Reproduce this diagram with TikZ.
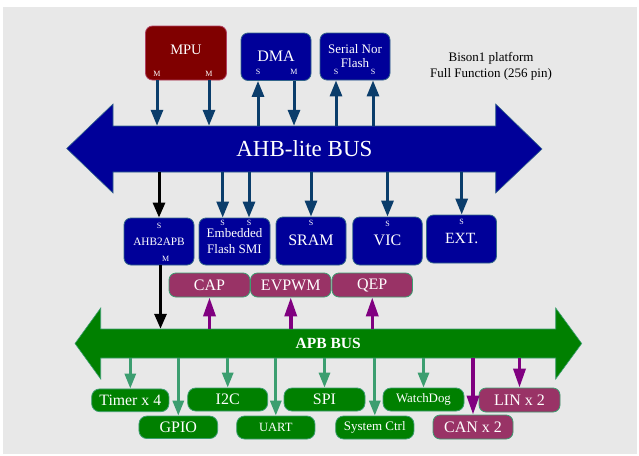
\documentclass[tikz,border=0pt]{standalone}
\usepackage{fontspec}
\setmainfont{Liberation Serif}
\usetikzlibrary{arrows.meta}

\definecolor{paper}{HTML}{E8E8E8}
\definecolor{ahbblue}{HTML}{000099}
\definecolor{bluerim}{HTML}{33668A}
\definecolor{navyline}{HTML}{0B3D6B}
\definecolor{mpured}{HTML}{800000}
\definecolor{mpurim}{HTML}{B04060}
\definecolor{apbgreen}{HTML}{008000}
\definecolor{greenrim}{HTML}{3C9E70}
\definecolor{plum}{HTML}{993366}
\definecolor{purpleline}{HTML}{800080}

\newcommand\setfs[2]{\fontsize{#1}{#2}\selectfont}

\tikzset{
  box/.style={draw, line width=0.8pt, inner sep=0pt, rounded corners=7pt},
  bluebox/.style={box, fill=ahbblue, draw=bluerim},
  redbox/.style={box, fill=mpured, draw=mpurim},
  greenbox/.style={box, fill=apbgreen, draw=greenrim, rounded corners=8pt},
  plumbox/.style={box, fill=plum, draw=greenrim, rounded corners=7pt},
  txt/.style={text=white, inner sep=0pt, align=center},
  port/.style={txt, font=\setfs{8}{9}},
  navyarr/.style={draw=navyline, line width=3pt, -{Triangle[length=16pt,width=12pt]}},
  blackarr/.style={draw=black, line width=3pt, -{Triangle[length=15pt,width=12pt]}},
  purparr/.style={draw=purpleline, line width=3.5pt, -{Triangle[length=19pt,width=12pt]}},
  greenarr/.style={draw=greenrim, line width=3pt, -{Triangle[length=15pt,width=11pt]}},
}

\begin{document}
\begin{tikzpicture}[x=1pt,y=-1pt]
\useasboundingbox (0,0) rectangle (639,455);
\fill[paper] (3,7) rectangle (637,454);

% ---- AHB-lite bus (double arrow) ----
\filldraw[fill=ahbblue, draw=bluerim, line width=0.6pt]
  (66.7,148.5) -- (113,104) -- (113,126) -- (495.7,126) -- (495.7,104)
  -- (542,149) -- (495.7,193) -- (495.7,172) -- (113,172) -- (113,193) -- cycle;
\node[txt, minimum width=382.7pt, minimum height=46pt, font=\setfs{23}{25}]
  (ahb) at (304.35,149) {AHB-lite BUS};

% ---- APB bus (double arrow) ----
\filldraw[fill=apbgreen, draw=greenrim, line width=0.6pt]
  (75,343.5) -- (100.7,308) -- (100.7,329) -- (555.7,329) -- (555.7,308)
  -- (581.7,343.5) -- (555.7,379) -- (555.7,358) -- (100.7,358) -- (100.7,379) -- cycle;
\node[txt, minimum width=455pt, minimum height=29pt, font=\bfseries\setfs{15.5}{17}]
  (apb) at (328.2,343.5) {APB BUS};

% ---- masters and slaves above the AHB bus ----
\node[redbox, minimum width=81pt, minimum height=54pt] (mpu) at (186,53) {};
\node[txt, font=\setfs{14.5}{16}] (mpu-t) at (186,50) {MPU};
\node[port] (mpuM1) at (157,74) {M};
\node[port] (mpuM2) at (209,74) {M};

\node[bluebox, minimum width=70pt, minimum height=47.5pt] (dma) at (276,56.75) {};
\node[txt, font=\setfs{16}{18}] (dma-t) at (276,56.7) {DMA};
\node[port] (dmaS) at (258,72) {S};
\node[port] (dmaM) at (294,72) {M};

\node[bluebox, minimum width=70pt, minimum height=47pt] (flash) at (355,56.5) {};
\node[txt, font=\setfs{13}{14}] (flash-t1) at (355,49) {Serial Nor};
\node[txt, font=\setfs{13}{14}] (flash-t2) at (355,63) {Flash};
\node[port] (flS1) at (336,72) {S};
\node[port] (flS2) at (373,72) {S};

\node[align=center, font=\setfs{13}{15.6}] (note) at (491,66.5)
  {Bison1 platform\\Full Function (256 pin)};

% ---- slaves below the AHB bus ----
\node[bluebox, minimum width=70pt, minimum height=47pt] (ahb2apb) at (159,241.5) {};
\node[port] (ahb2apbS) at (159,226) {S};
\node[txt, font=\setfs{11.3}{13}] (ahb2apb-t) at (159,241.7) {AHB2APB};
\node[port] (ahb2apbM) at (165.7,259.3) {M};

\node[bluebox, minimum width=71pt, minimum height=47pt] (eflash) at (234.5,241.5) {};
\node[port] (efS1) at (222.7,222.5) {S};
\node[port] (efS2) at (249,222.5) {S};
\node[txt, font=\setfs{13}{14}] (eflash-t1) at (234.5,233.3) {Embedded};
\node[txt, font=\setfs{13}{14}] (eflash-t2) at (234.5,249.3) {Flash SMI};

\node[bluebox, minimum width=70pt, minimum height=48pt] (sram) at (311,241) {};
\node[port] (sramS) at (311,222.7) {S};
\node[txt, font=\setfs{16}{18}] (sram-t) at (311,240) {SRAM};

\node[bluebox, minimum width=69.5pt, minimum height=48pt] (vic) at (387.5,241) {};
\node[port] (vicS) at (387.5,223.5) {S};
\node[txt, font=\setfs{16}{18}] (vic-t) at (387.5,240) {VIC};

\node[bluebox, minimum width=70pt, minimum height=48pt] (ext) at (461.5,239) {};
\node[port] (extS) at (461.7,222.3) {S};
\node[txt, font=\setfs{15.6}{18}] (ext-t) at (461.7,238.3) {EXT.};

% ---- peripherals above the APB bus ----
\node[plumbox, minimum width=81pt, minimum height=24pt, txt, font=\setfs{16}{18}] (cap) at (209.5,285) {CAP};
\node[plumbox, minimum width=80.5pt, minimum height=24pt, txt, font=\setfs{16}{18}] (evpwm) at (290.75,285) {EVPWM};
\node[plumbox, minimum width=80.5pt, minimum height=24pt, txt, font=\setfs{16}{18}] (qep) at (372.25,285) {QEP};

% ---- peripherals below the APB bus ----
\node[greenbox, minimum width=77.3pt, minimum height=22.7pt, txt, font=\setfs{15.8}{18}] (timer) at (130.3,400.3) {Timer x 4};
\node[greenbox, minimum width=80pt, minimum height=23pt, txt, font=\setfs{16}{18}] (i2c) at (227.7,399.5) {I2C};
\node[greenbox, minimum width=81pt, minimum height=23pt, txt, font=\setfs{16}{18}] (spi) at (324.5,399.5) {SPI};
\node[greenbox, minimum width=81pt, minimum height=23pt, txt, font=\setfs{12.9}{15}] (wdog) at (423.5,399.5) {WatchDog};
\node[plumbox, minimum width=81pt, minimum height=24pt, txt, font=\setfs{16}{18}] (lin) at (519.5,400) {LIN x 2};

\node[greenbox, minimum width=78.7pt, minimum height=22.5pt, txt, font=\setfs{16}{18}] (gpio) at (178.3,427.3) {GPIO};
\node[greenbox, minimum width=78.3pt, minimum height=23pt, txt, font=\setfs{12.6}{15}] (uart) at (275.8,427.5) {UART};
\node[greenbox, minimum width=78.3pt, minimum height=23pt, txt, font=\setfs{13}{15}] (sysctrl) at (374.8,427.5) {System Ctrl};
\node[plumbox, minimum width=80pt, minimum height=24pt, txt, font=\setfs{16}{18}] (can) at (473,427) {CAN x 2};

% ---- AHB connections ----
\draw[navyarr] (mpu.south -| mpuM1) -- (ahb.north -| mpuM1);
\draw[navyarr] (mpu.south -| mpuM2) -- (ahb.north -| mpuM2);
\draw[navyarr] (ahb.north -| dmaS) -- (dma.south -| dmaS);
\draw[navyarr] (dma.south -| dmaM) -- (ahb.north -| dmaM);
\draw[navyarr] (ahb.north -| flS1) -- (flash.south -| flS1);
\draw[navyarr] (ahb.north -| flS2) -- (flash.south -| flS2);

\draw[blackarr] (ahb.south -| ahb2apbS) -- (ahb2apb.north -| ahb2apbS);
\draw[navyarr] (ahb.south -| efS1) -- (eflash.north -| efS1);
\draw[navyarr] (ahb.south -| efS2) -- (eflash.north -| efS2);
\draw[navyarr] (ahb.south -| sramS) -- (sram.north -| sramS);
\draw[navyarr] (ahb.south -| vicS) -- (vic.north -| vicS);
\draw[navyarr] (ahb.south -| extS) -- (ext.north -| extS);

% ---- bridge to the APB bus ----
\draw[blackarr] ([xshift=1.5pt]ahb2apb.south) -- ([xshift=1.5pt]ahb2apb.south |- apb.north);

% ---- APB connections ----
\draw[purparr] (apb.north -| cap) -- (cap.south);
\draw[purparr] (apb.north -| evpwm) -- (evpwm.south);
\draw[purparr] (apb.north -| qep) -- (qep.south);

\draw[greenarr] (apb.south -| timer) -- (timer.north);
\draw[greenarr] (apb.south -| gpio) -- (gpio.north);
\draw[greenarr] (apb.south -| i2c) -- (i2c.north);
\draw[greenarr] (apb.south -| uart) -- (uart.north);
\draw[greenarr] (apb.south -| spi) -- (spi.north);
\draw[greenarr] (apb.south -| sysctrl) -- (sysctrl.north);
\draw[greenarr] (apb.south -| wdog) -- (wdog.north);
\draw[purparr] (apb.south -| can) -- (can.north);
\draw[purparr] (apb.south -| lin) -- (lin.north);
\end{tikzpicture}
\end{document}
